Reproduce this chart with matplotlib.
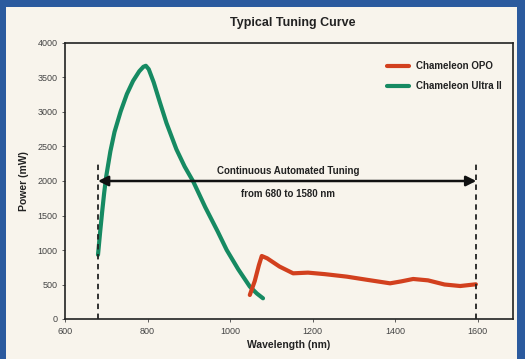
import matplotlib.pyplot as plt
from matplotlib.patches import Rectangle

# Chameleon Ultra II (green)
ultra_nm = [680, 685, 690, 695, 700, 710, 720, 735, 750, 765, 780, 790, 796, 803, 815, 830, 846, 870, 890, 911, 940, 970, 992, 1020, 1048, 1065, 1080]
ultra_mw = [930, 1250, 1550, 1830, 2070, 2430, 2710, 3010, 3260, 3450, 3590, 3655, 3670, 3620, 3430, 3140, 2840, 2460, 2210, 1990, 1620, 1270, 1000, 720, 470, 370, 300]

# Chameleon OPO (red)
opo_nm = [1048, 1060, 1070, 1077, 1090, 1120, 1153, 1189, 1230, 1283, 1330, 1388, 1415, 1444, 1480, 1520, 1558, 1596]
opo_mw = [348, 550, 780, 913, 880, 760, 662, 672, 650, 614, 570, 517, 545, 580, 560, 500, 478, 503]

range_lo, range_hi = 680, 1597
arrow_y = 2000

green = '#168a62'
red = '#d2401e'
cream = '#f8f4ec'

plt.rcParams['font.family'] = ['Liberation Sans', 'DejaVu Sans']

fig = plt.figure(figsize=(5.25, 3.59), dpi=100, facecolor='#2b5a9e')
fig.patches.append(Rectangle((6 / 525, 0), 511 / 525, 352 / 359, transform=fig.transFigure,
                             facecolor=cream, edgecolor='none', zorder=-1))
ax = fig.add_axes([65 / 525, 40 / 359, 448 / 525, 276 / 359])
ax.set_facecolor(cream)

ax.plot(ultra_nm, ultra_mw, color=green, lw=3, label='Chameleon Ultra II',
        solid_capstyle='round', solid_joinstyle='round')
ax.plot(opo_nm, opo_mw, color=red, lw=3, label='Chameleon OPO',
        solid_capstyle='round', solid_joinstyle='round')

ax.plot([range_lo, range_lo], [0, 2250], ls=(0, (3, 2.5)), color='#222', lw=1.3)
ax.plot([range_hi, range_hi], [0, 2250], ls=(0, (3, 2.5)), color='#222', lw=1.3)
ax.annotate('', xy=(range_lo, arrow_y), xytext=(range_hi, arrow_y),
            arrowprops=dict(arrowstyle='<|-|>', color='#111', lw=1.8, mutation_scale=15,
                            shrinkA=0, shrinkB=0))
ax.text(1140, 2070, 'Continuous Automated Tuning', ha='center', va='bottom', fontsize=7, fontweight='bold', color='#222')
ax.text(1140, 1880, 'from 680 to 1580 nm', ha='center', va='top', fontsize=7, fontweight='bold', color='#222')

ax.set_xlim(600, 1686)
ax.set_ylim(0, 4000)
ax.set_xticks([600, 800, 1000, 1200, 1400, 1600])
ax.set_yticks(range(0, 4001, 500))
ax.tick_params(labelsize=6.5, colors='#444', length=2, width=0.6)
for s in ax.spines.values():
    s.set_linewidth(1.2)
    s.set_color('#222')

ax.set_xlabel('Wavelength (nm)', fontsize=7.5, fontweight='bold', color='#222', labelpad=3)
ax.set_ylabel('Power (mW)', fontsize=7.5, fontweight='bold', color='#222', labelpad=6)
fig.text(0.558, 0.935, 'Typical Tuning Curve', ha='center', va='center', fontsize=9, fontweight='bold', color='#222')

handles, labels = ax.get_legend_handles_labels()
leg = ax.legend(handles[::-1], labels[::-1], loc='upper right', frameon=False,
                prop={'weight': 'bold', 'size': 7}, handlelength=2.2, labelspacing=1.0,
                bbox_to_anchor=(0.995, 0.965))
for t in leg.get_texts():
    t.set_color('#222')

fig.savefig('out.png', dpi=100, facecolor=fig.get_facecolor())
